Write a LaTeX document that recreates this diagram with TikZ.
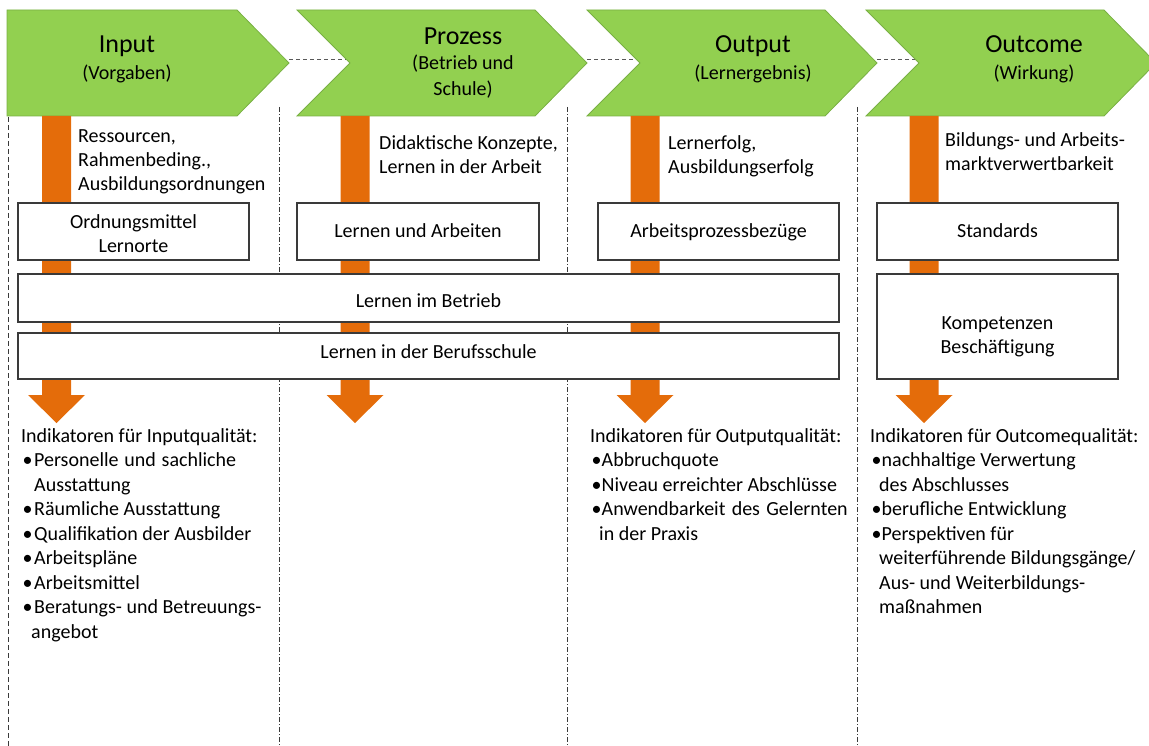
\documentclass[tikz,border=0pt]{standalone}
\usepackage{fontspec}
\setmainfont{Carlito}
\definecolor{chevgreen}{HTML}{92D050}
\definecolor{chevline}{HTML}{79B044}
\definecolor{flow}{HTML}{E46C0A}
\definecolor{rulegray}{HTML}{3A3A3A}

% multi-line text blocks whose reference point is the first baseline
\newcommand\llines[1]{\begin{tabular}[t]{@{}l@{}}#1\end{tabular}}
\newcommand\clines[1]{\begin{tabular}[t]{@{}c@{}}#1\end{tabular}}
% bullet entry: indent, bullet, text
\newcommand\bitem[2][10pt]{\hspace*{1.5pt}\makebox[#1][l]{•}#2}
\newcommand\titlesize{\fontsize{26}{30}\selectfont}

\tikzset{
  chev/.style={fill=chevgreen, draw=chevline, line width=0.8pt, line join=miter},
  flowarrow/.style={fill=flow},
  link/.style={draw=gray!70!black, line width=1.3pt, dash pattern=on 4pt off 3pt},
  sepline/.style={draw=rulegray, line width=0.9pt, dash pattern=on 5pt off 2pt on 1pt off 2pt},
  edgeline/.style={draw=rulegray, line width=0.9pt, dash pattern=on 5pt off 3pt},
  box/.style={draw=rulegray, fill=white, line width=1.2pt, inner sep=0pt, outer sep=0pt,
              anchor=north west, font=\fontsize{20}{24}\selectfont},
  txt/.style={inner sep=0pt, anchor=base west, font=\fontsize{20}{24}\selectfont},
  ind/.style={inner sep=0pt, anchor=base west, font=\fontsize{20}{24.5}\selectfont},
  title/.style={inner sep=0pt, anchor=base, font=\fontsize{20}{24}\selectfont},
}

\begin{document}
\begin{tikzpicture}[x=1pt, y=-1pt]
\useasboundingbox (0,0) rectangle (1149,746);
\clip (0,0) rectangle (1149,746);

% column separators
\draw[edgeline] (8,117) -- (8,746);
\foreach \sx in {279,567,857}
  \draw[sepline] (\sx,107) -- (\sx,746);

% links between the phases (behind the chevrons)
\coordinate (inR)  at (289,59.5);
\coordinate (prL)  at (350,59.5);
\coordinate (prR)  at (587,59.5);
\coordinate (outL) at (640,59.5);
\coordinate (outR) at (877,59.5);
\coordinate (ocL)  at (919,59.5);
\draw[link] (inR) -- (prL);
\draw[link] (prR) -- (outL);
\draw[link] (outR) -- (ocL);

% phase chevrons
\path[chev] (7,10) -- (237,10) -- (289,63) -- (237,116) -- (7,116) -- cycle;
\path[chev] (297,10) -- (535,10) -- (587,63) -- (535,116) -- (297,116) -- (350,63) -- cycle;
\path[chev] (587,10) -- (825,10) -- (877,63) -- (825,116) -- (587,116) -- (640,63) -- cycle;
\path[chev] (866,10) -- (1104,10) -- (1156,63) -- (1104,116) -- (866,116) -- (919,63) -- cycle;

\node[title] (tin)  at (127,53)   {\clines{{\titlesize Input}\\[3pt](Vorgaben)}};
\node[title, font=\fontsize{20}{25.5}\selectfont] (tpr) at (463,44.5)
  {\clines{{\titlesize Prozess}\\(Betrieb und\\Schule)}};
\node[title] (tout) at (753,52.5) {\clines{{\titlesize Output}\\[3.5pt](Lernergebnis)}};
\node[title] (toc)  at (1034,52.5){\clines{{\titlesize Outcome}\\[3.5pt](Wirkung)}};

% downward flow arrows
\foreach \c in {56.5,355,645,924}
  \fill[flowarrow] (\c-14.5,116) -- (\c+14.5,116) -- (\c+14.5,395) -- (\c+28.5,395)
    -- (\c,423) -- (\c-28.5,395) -- (\c-14.5,395) -- cycle;

% notes beside the arrows
\node[txt] (nin)  at (78,142.5)  {\llines{Ressourcen,\\Rahmenbeding.,\\Ausbildungsordnungen}};
\node[txt] (npr)  at (379,150)   {\llines{Didaktische Konzepte,\\Lernen in der Arbeit}};
\node[txt] (nout) at (668,150)   {\llines{Lernerfolg,\\Ausbildungserfolg}};
\node[txt] (noc)  at (945,147)   {\llines{Bildungs- und Arbeits-\\marktverwertbarkeit}};

% boxes
\node[box, minimum width=231pt, minimum height=57pt, text height=25.3pt, text depth=31.7pt]
  (ord) at (18,203) {\clines{Ordnungsmittel\\Lernorte}};
\node[box, minimum width=242pt, minimum height=57pt, text height=35pt, text depth=22pt]
  (lua) at (297,203) {Lernen und Arbeiten};
\node[box, minimum width=241pt, minimum height=57pt, text height=35pt, text depth=22pt]
  (apb) at (598,203) {Arbeitsprozessbezüge};
\node[box, minimum width=241pt, minimum height=57pt, text height=35pt, text depth=22pt]
  (std) at (877,203) {Standards};
\node[box, minimum width=821pt, minimum height=48pt, text height=34pt, text depth=14pt]
  (betr) at (18,274) {Lernen im Betrieb};
\node[box, minimum width=821pt, minimum height=46pt, text height=25.3pt, text depth=20.7pt]
  (bs) at (18,333) {Lernen in der Berufsschule};
\node[box, minimum width=241pt, minimum height=105pt, text height=55.3pt, text depth=49.7pt]
  (komp) at (877,274) {\clines{Kompetenzen\\Beschäftigung}};

% quality indicators
\node[ind] (qin) at (21,442) {\llines{%
  Indikatoren für Inputqualität:\\
  \bitem[11.5pt]{\makebox[202pt][s]{Personelle und sachliche}}\\
  \hspace*{13pt}Ausstattung\\
  \bitem[11.5pt]{Räumliche Ausstattung}\\
  \bitem[11.5pt]{Qualifikation der Ausbilder}\\
  \bitem[11.5pt]{Arbeitspläne}\\
  \bitem[11.5pt]{Arbeitsmittel}\\
  \bitem[11.5pt]{Beratungs- und Betreuungs-}\\
  \hspace*{10pt}angebot}};
\node[ind] (qout) at (590,442) {\llines{%
  Indikatoren für Outputqualität:\\
  \bitem{Abbruchquote}\\
  \bitem{Niveau erreichter Abschlüsse}\\
  \bitem{\makebox[246pt][s]{Anwendbarkeit des Gelernten}}\\
  \hspace*{9pt}in der Praxis}};
\node[ind] (qoc) at (870,442) {\llines{%
  Indikatoren für Outcomequalität:\\
  \bitem{nachhaltige Verwertung}\\
  \hspace*{9pt}des Abschlusses\\
  \bitem{berufliche Entwicklung}\\
  \bitem{Perspektiven für}\\
  \hspace*{9pt}weiterführende Bildungsgänge/\\
  \hspace*{9pt}Aus- und Weiterbildungs-\\
  \hspace*{9pt}maßnahmen}};
\end{tikzpicture}
\end{document}
